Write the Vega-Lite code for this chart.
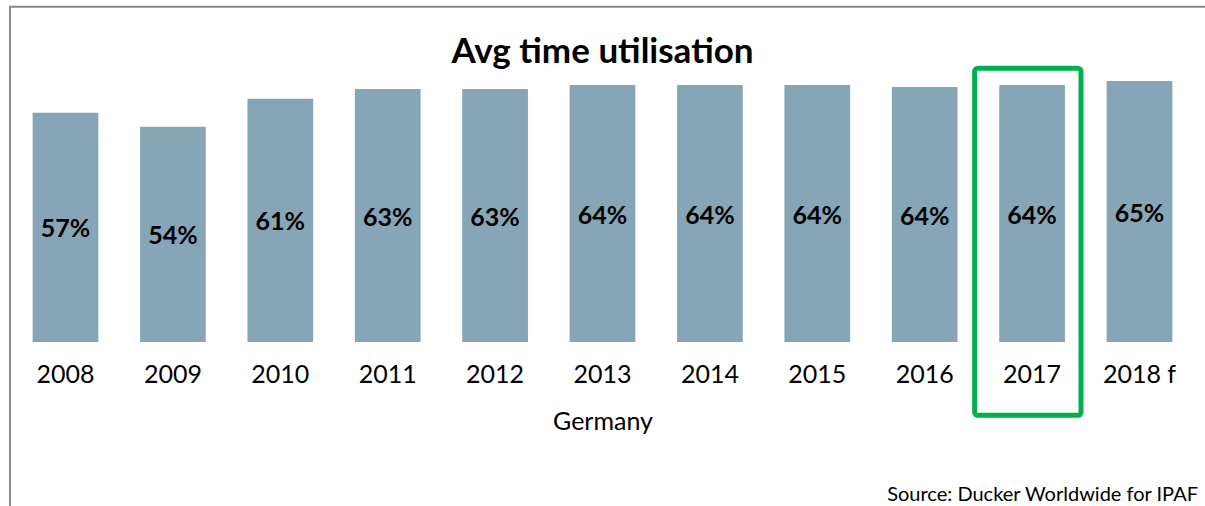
{
  "$schema": "https://vega.github.io/schema/vega-lite/v6.json",
  "width": 1205,
  "height": 281,
  "autosize": {"type": "none"},
  "padding": {"left": 0, "top": 61, "right": 0, "bottom": 164},
  "background": "white",
  "config": {"view": {"stroke": null}, "font": "Lato"},
  "title": {
    "text": "Avg time utilisation",
    "font": "Lato",
    "fontSize": 35,
    "fontWeight": "bold",
    "color": "#000000",
    "anchor": "middle",
    "frame": "group",
    "baseline": "alphabetic",
    "offset": -92.6
  },
  "data": {
    "values": [
      {"year": "2008", "value": 0.571},
      {"year": "2009", "value": 0.536},
      {"year": "2010", "value": 0.606},
      {"year": "2011", "value": 0.630},
      {"year": "2012", "value": 0.630},
      {"year": "2013", "value": 0.640},
      {"year": "2014", "value": 0.640},
      {"year": "2015", "value": 0.640},
      {"year": "2016", "value": 0.635},
      {"year": "2017", "value": 0.640},
      {"year": "2018 f", "value": 0.650}
    ]
  },
  "encoding": {
    "x": {
      "field": "year",
      "type": "nominal",
      "sort": null,
      "scale": {"paddingInner": 0.388, "paddingOuter": 0.304},
      "axis": {
        "title": "Germany",
        "labelAngle": 0,
        "labelFont": "Lato",
        "labelFontSize": 25,
        "labelColor": "#000000",
        "labelPadding": 20,
        "ticks": false,
        "domain": false,
        "titleFont": "Lato",
        "titleFontSize": 25,
        "titleFontWeight": "normal",
        "titleColor": "#000000",
        "titlePadding": 22
      }
    }
  },
  "layer": [
    {
      "mark": {"type": "bar", "color": "#86A6B8"},
      "encoding": {
        "y": {"field": "value", "type": "quantitative", "scale": {"domain": [0, 0.7]}, "axis": null}
      }
    },
    {
      "mark": {"type": "text", "font": "Lato", "fontSize": 25, "fontWeight": "bold", "color": "#000000", "baseline": "middle", "dy": 2},
      "encoding": {
        "y": {"field": "value", "type": "quantitative", "scale": {"domain": [0, 1.4]}, "axis": null},
        "text": {"field": "value", "type": "quantitative", "format": ".0%"}
      }
    },
    {
      "data": {"values": [{"note": "highlight 2017"}]},
      "mark": {"type": "rect", "fill": null, "stroke": "#00B050", "strokeWidth": 5, "cornerRadius": 3},
      "encoding": {
        "x": {"datum": "2017", "type": "nominal", "bandPosition": -0.374},
        "x2": {"datum": "2017", "bandPosition": 1.244},
        "y": {"datum": 0.6818, "type": "quantitative", "scale": {"domain": [0, 0.7]}, "axis": null},
        "y2": {"datum": -0.1826}
      }
    },
    {
      "data": {"values": [{"note": "frame"}]},
      "mark": {"type": "rect", "fill": null, "stroke": "#888888", "strokeWidth": 2},
      "encoding": {
        "x": {"datum": "2008", "type": "nominal", "bandPosition": -0.345},
        "x2": {"datum": "2018 f", "bandPosition": 3},
        "y": {"datum": 0.8353, "type": "quantitative", "scale": {"domain": [0, 0.7]}, "axis": null},
        "y2": {"datum": -1}
      }
    },
    {
      "data": {"values": [{"note": "source"}]},
      "mark": {"type": "text", "text": "Source: Ducker Worldwide for IPAF", "font": "Lato", "fontSize": 20, "color": "#000000", "align": "right", "baseline": "alphabetic"},
      "encoding": {
        "x": {"datum": "2018 f", "type": "nominal", "bandPosition": 1.39},
        "y": {"datum": -0.3953, "type": "quantitative", "scale": {"domain": [0, 0.7]}, "axis": null}
      }
    }
  ],
  "resolve": {"scale": {"y": "independent"}}
}
